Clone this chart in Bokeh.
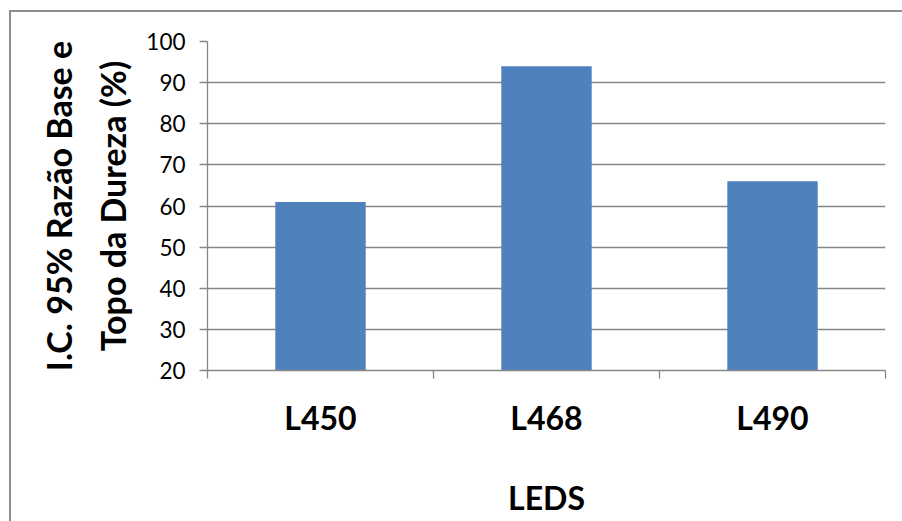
from bokeh.plotting import figure
from bokeh.models import Range1d, FixedTicker, ColumnDataSource, InlineStyleSheet
from bokeh.embed import file_html
from bokeh.resources import INLINE

# Data
leds = ["L450", "L468", "L490"]
ic95 = [61, 94, 66]
y_ticks = [20, 30, 40, 50, 60, 70, 80, 90, 100]

GRID = "#878787"
BAR = "#4F81BD"

centers = [i + 0.5 for i in range(len(leds))]
bounds = [float(i) for i in range(len(leds) + 1)]
src = ColumnDataSource(dict(x=centers, top=ic95, led=leds))

p = figure(width=902, height=521, output_backend="svg", toolbar_location=None,
           x_range=Range1d(0, len(leds)), y_range=Range1d(20, 100),
           min_border_left=207, min_border_right=17, min_border_top=41,
           min_border_bottom=151)
p.outline_line_color = None
p.background_fill_color = "white"
p.border_fill_color = "white"

p.vbar(x="x", top="top", bottom=20, width=0.4, source=src,
       fill_color=BAR, line_color=None)

# y axis
p.yaxis.ticker = FixedTicker(ticks=y_ticks)
p.yaxis.axis_line_color = GRID
p.yaxis.axis_line_width = 1.3
p.yaxis.major_tick_line_color = GRID
p.yaxis.major_tick_line_width = 1.3
p.yaxis.major_tick_out = 8
p.yaxis.major_tick_in = 0
p.yaxis.minor_tick_line_color = None
p.yaxis.major_label_text_font = "Lato"
p.yaxis.major_label_text_font_size = "22.5px"
p.yaxis.major_label_text_color = "black"
p.yaxis.major_label_standoff = 14
p.yaxis.axis_label = "I.C. 95% Razão Base e\nTopo da Dureza (%)"
p.yaxis.axis_label_text_font = "Lato"
p.yaxis.axis_label_text_font_style = "bold"
p.yaxis.axis_label_text_font_size = "34px"
p.yaxis.axis_label_text_color = "black"
p.yaxis.axis_label_text_line_height = 1.33
p.yaxis.axis_label_standoff = 10

# x axis: labels at category centres, tick marks at category boundaries
p.xaxis.ticker = FixedTicker(ticks=centers, minor_ticks=bounds)
p.xaxis.major_label_overrides = {c: name for c, name in zip(centers, leds)}
p.xaxis.axis_line_color = GRID
p.xaxis.axis_line_width = 1.3
p.xaxis.major_tick_line_color = None
p.xaxis.major_tick_out = 0
p.xaxis.major_tick_in = 0
p.xaxis.minor_tick_line_color = GRID
p.xaxis.minor_tick_line_width = 1.3
p.xaxis.minor_tick_out = 8
p.xaxis.minor_tick_in = 0
p.xaxis.major_label_text_font = "Lato"
p.xaxis.major_label_text_font_style = "bold"
p.xaxis.major_label_text_font_size = "32px"
p.xaxis.major_label_text_color = "black"
p.xaxis.major_label_standoff = 19
p.xaxis.axis_label = "LEDS"
p.xaxis.axis_label_text_font = "Lato"
p.xaxis.axis_label_text_font_style = "bold"
p.xaxis.axis_label_text_font_size = "32px"
p.xaxis.axis_label_text_color = "black"
p.xaxis.axis_label_standoff = 38

# grid
p.xgrid.grid_line_color = None
p.ygrid.ticker = FixedTicker(ticks=y_ticks)
p.ygrid.grid_line_color = GRID
p.ygrid.grid_line_width = 1.3

# chart area border (left and top edges; right and bottom run off the page)
p.stylesheets = [InlineStyleSheet(css="""
:host { position: relative; }
:host::after {
  content: "";
  position: absolute;
  left: 9px; top: 10px; width: 2000px; height: 2000px;
  border-left: 2px solid #8E8E8E;
  border-top: 2px solid #8E8E8E;
  pointer-events: none;
  z-index: 10;
}
""")]

open("out.html", "w").write(file_html(p, INLINE))
